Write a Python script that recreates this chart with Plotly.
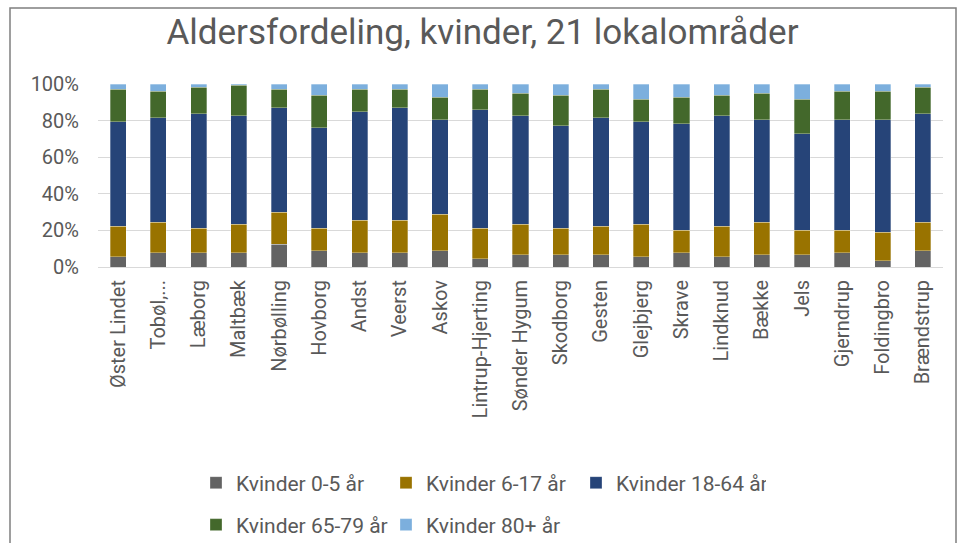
import plotly.graph_objects as go

categories = ["Øster Lindet", "Tobøl,...", "Læborg", "Maltbæk", "Nørbølling", "Hovborg",
              "Andst", "Veerst", "Askov", "Lintrup-Hjerting", "Sønder Hygum", "Skodborg",
              "Gesten", "Glejbjerg", "Skrave", "Lindknud", "Bække", "Jels", "Gjerndrup",
              "Foldingbro", "Brændstrup"]

# Shares in percent per age group
age_0_5 = [5.5, 7.8, 7.8, 7.8, 12.4, 8.9, 7.8, 7.8, 8.9, 4.5, 6.7, 6.7, 6.7, 5.6, 7.8, 5.6, 6.7, 6.7, 7.8, 3.5, 8.9]
age_6_17 = [16.7, 16.6, 13.3, 15.5, 17.4, 12.2, 17.7, 17.7, 19.8, 16.6, 16.6, 14.4, 15.5, 17.7, 12.2, 16.6, 17.7, 13.3, 12.2, 15.4, 15.5]
age_18_64 = [57.3, 57.2, 62.7, 59.4, 57.3, 55.1, 59.4, 61.6, 51.7, 64.9, 59.4, 56.2, 59.4, 56.2, 58.4, 60.5, 56.1, 52.9, 60.5, 61.6, 59.4]
age_65_79 = [17.6, 14.4, 14.4, 16.6, 10.0, 17.6, 12.2, 10.0, 12.3, 11.1, 12.2, 16.5, 15.5, 12.1, 14.3, 11.1, 14.4, 18.7, 15.5, 15.5, 14.4]
age_80 = [2.9, 4.0, 1.8, 0.7, 2.9, 6.2, 2.9, 2.9, 7.3, 2.9, 5.1, 6.2, 2.9, 8.4, 7.3, 6.2, 5.1, 8.4, 4.0, 4.0, 1.8]

series_names = ["Kvinder 0-5 år", "Kvinder 6-17 år", "Kvinder 18-64 år", "Kvinder 65-79 år", "Kvinder 80+ år"]
series_values = [age_0_5, age_6_17, age_18_64, age_65_79, age_80]
colors = ["#636363", "#997300", "#264478", "#43682B", "#7CAFDD"]
legend_ids = ["legend", "legend", "legend", "legend2", "legend2"]

fig = go.Figure()
for name, vals, col, lg in zip(series_names, series_values, colors, legend_ids):
    fig.add_trace(go.Bar(
        x=categories, y=vals, name=name,
        marker=dict(color=col, line=dict(color="rgba(255,255,255,0.6)", width=0.5)),
        legend=lg,
    ))

font_family = "Roboto, Noto Sans, sans-serif"
txt_color = "#595959"
pw, ph = 845, 183

fig.update_layout(
    width=965, height=543,
    barmode="stack", barnorm="percent",
    bargap=0.6,
    plot_bgcolor="white", paper_bgcolor="white",
    margin=dict(l=98, r=22, t=84, b=276, autoexpand=False),
    title=dict(text="Aldersfordeling, kvinder, 21 lokalområder", x=0.5, xanchor="center",
               y=1 - 32 / 543, yanchor="middle", yref="container",
               font=dict(family=font_family, size=35, color=txt_color)),
    font=dict(family=font_family, size=20, color=txt_color),
    xaxis=dict(tickangle=-90, showgrid=False, showline=True, linecolor="#D9D9D9",
               tickfont=dict(size=20, color=txt_color), ticks="", ticklabelstandoff=4),
    yaxis=dict(range=[0, 100], dtick=20, ticksuffix="%", showgrid=True, gridcolor="#D9D9D9",
               zeroline=False, tickfont=dict(size=20, color=txt_color), ticklabelstandoff=18),
    legend=dict(orientation="h", x=(196 - 98) / pw, y=(267 - 483) / ph, xanchor="left", yanchor="middle",
                entrywidth=145, entrywidthmode="pixels", traceorder="normal",
                font=dict(size=21, color=txt_color), bgcolor="rgba(0,0,0,0)"),
    legend2=dict(orientation="h", x=(196 - 98) / pw, y=(267 - 525) / ph, xanchor="left", yanchor="middle",
                 entrywidth=145, entrywidthmode="pixels", traceorder="normal",
                 font=dict(size=21, color=txt_color), bgcolor="rgba(0,0,0,0)"),
    showlegend=True,
)

# chart frame
fig.add_shape(type="rect", xref="paper", yref="paper",
              x0=(10 - 98) / pw, x1=(956 - 98) / pw, y0=(267 - 560) / ph, y1=(267 - 8) / ph,
              line=dict(color="#7F7F7F", width=1.5), fillcolor="rgba(0,0,0,0)", layer="below")

fig.write_html("out.html", config={"displayModeBar": False},
               post_script="document.body.style.margin='0';document.body.style.overflow='hidden';")
